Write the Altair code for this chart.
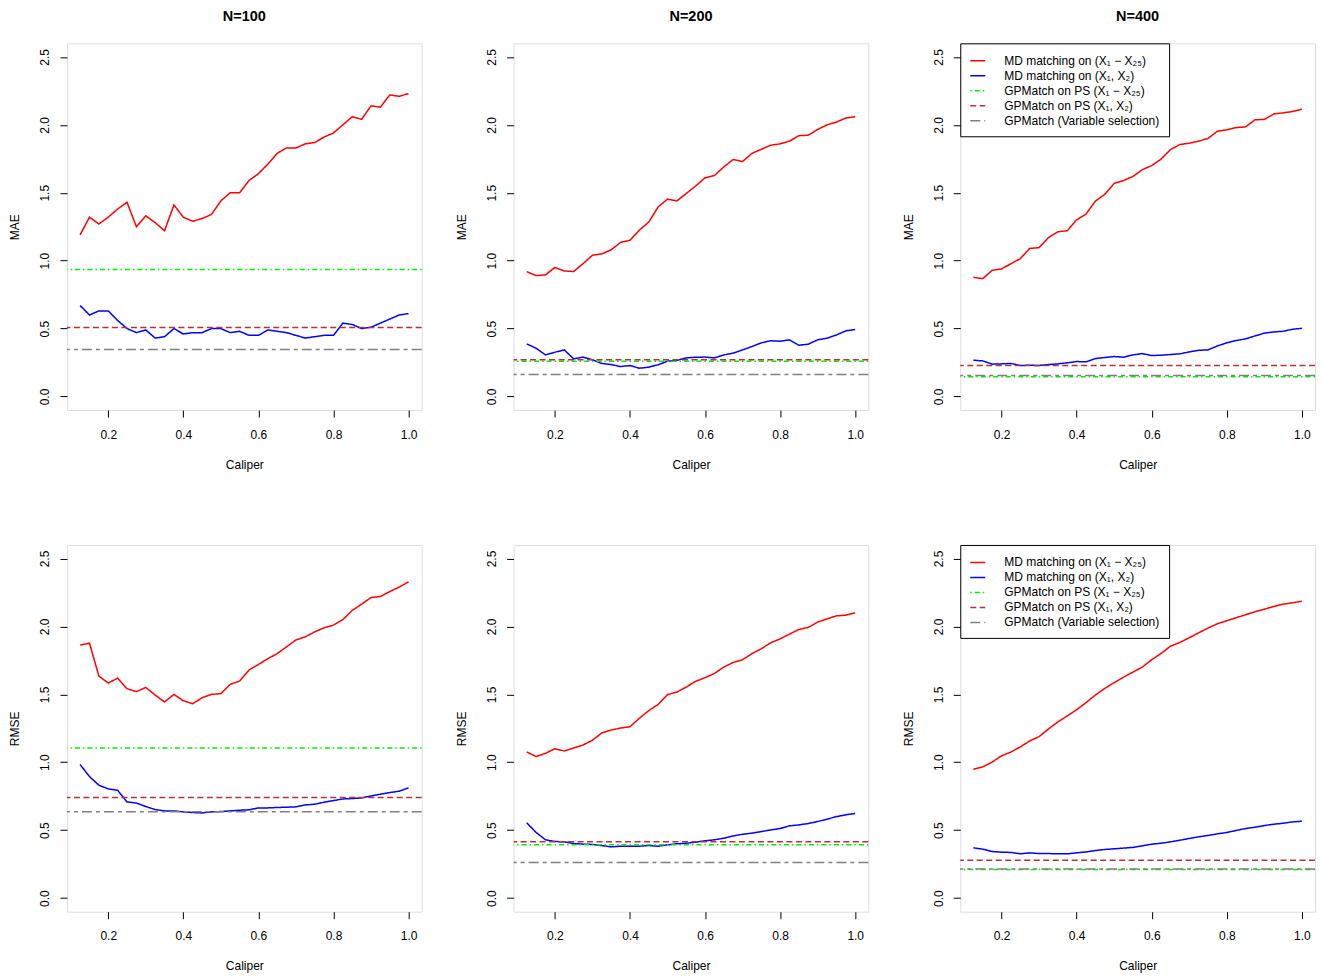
import altair as alt
import pandas as pd

caliper = [0.125, 0.15, 0.175, 0.2, 0.225, 0.25, 0.275, 0.3, 0.325, 0.35, 0.375, 0.4,
           0.425, 0.45, 0.475, 0.5, 0.525, 0.55, 0.575, 0.6, 0.625, 0.65, 0.675, 0.7,
           0.725, 0.75, 0.775, 0.8, 0.825, 0.85, 0.875, 0.9, 0.925, 0.95, 0.975, 1.0]

series_names = ["MD matching on (X\u2081 \u2212 X\u2082\u2085)",
                "MD matching on (X\u2081, X\u2082)",
                "GPMatch on PS (X\u2081 \u2212 X\u2082\u2085)",
                "GPMatch on PS (X\u2081, X\u2082)",
                "GPMatch (Variable selection)"]
series_colors = ["#FF0000", "#0000FF", "#00EE00", "#B03535", "#808080"]
series_dashes = [[1, 0], [1, 0], [1.5, 3, 5, 3], [6, 3.5], [10, 4, 4, 4]]
series_widths = [1.5, 1.5, 1.5, 1.5, 2.5]

titles = ["N=100", "N=200", "N=400"]

# MAE
mae_md_all_100 = [1.19, 1.32, 1.27, 1.32, 1.38, 1.43, 1.25, 1.33, 1.28, 1.22, 1.41, 1.32, 1.29, 1.31, 1.34, 1.44, 1.50, 1.50,
                  1.59, 1.64, 1.71, 1.79, 1.83, 1.83, 1.86, 1.87, 1.91, 1.94, 2.00, 2.06, 2.04, 2.14, 2.13, 2.22, 2.21, 2.23]
mae_md_x12_100 = [0.67, 0.60, 0.63, 0.63, 0.56, 0.50, 0.47, 0.49, 0.43, 0.44, 0.50, 0.46, 0.47, 0.47, 0.50, 0.50, 0.47, 0.48,
                  0.45, 0.45, 0.49, 0.48, 0.47, 0.45, 0.43, 0.44, 0.45, 0.45, 0.54, 0.53, 0.50, 0.51, 0.54, 0.57, 0.60, 0.61]
mae_const_100 = [0.934, 0.507, 0.346]

mae_md_all_200 = [0.919, 0.89, 0.895, 0.95, 0.924, 0.92, 0.978, 1.04, 1.05, 1.08, 1.135, 1.15, 1.225, 1.284, 1.395, 1.453, 1.44, 1.495,
                  1.55, 1.61, 1.627, 1.69, 1.745, 1.73, 1.79, 1.82, 1.85, 1.86, 1.88, 1.92, 1.924, 1.966, 2.0, 2.02, 2.05, 2.06]
mae_md_x12_200 = [0.387, 0.355, 0.306, 0.326, 0.343, 0.277, 0.29, 0.27, 0.243, 0.235, 0.22, 0.228, 0.208, 0.216, 0.233, 0.26, 0.265, 0.284,
                  0.289, 0.29, 0.284, 0.306, 0.319, 0.343, 0.368, 0.395, 0.41, 0.407, 0.417, 0.377, 0.385, 0.417, 0.429, 0.453, 0.483, 0.493]
mae_const_200 = [0.26, 0.27, 0.162]

mae_md_all_400 = [0.877, 0.868, 0.929, 0.939, 0.978, 1.015, 1.09, 1.096, 1.17, 1.213, 1.22, 1.30, 1.343, 1.439, 1.488, 1.569, 1.59, 1.62,
                  1.67, 1.70, 1.748, 1.818, 1.855, 1.865, 1.88, 1.90, 1.953, 1.963, 1.98, 1.985, 2.037, 2.04, 2.08, 2.088, 2.098, 2.115]
mae_md_x12_400 = [0.267, 0.262, 0.238, 0.24, 0.243, 0.228, 0.23, 0.228, 0.235, 0.24, 0.248, 0.257, 0.255, 0.279, 0.287, 0.294, 0.289, 0.306,
                  0.316, 0.301, 0.304, 0.309, 0.314, 0.328, 0.34, 0.343, 0.372, 0.395, 0.412, 0.424, 0.446, 0.466, 0.475, 0.48, 0.495, 0.502]
mae_const_400 = [0.145, 0.228, 0.155]

# RMSE
rmse_md_all_100 = [1.863, 1.877, 1.635, 1.583, 1.62, 1.542, 1.52, 1.551, 1.495, 1.444, 1.5, 1.453, 1.431, 1.475, 1.5, 1.505, 1.574, 1.598,
                   1.679, 1.72, 1.762, 1.80, 1.85, 1.90, 1.924, 1.96, 1.99, 2.01, 2.05, 2.118, 2.164, 2.213, 2.22, 2.257, 2.29, 2.328]
rmse_md_x12_100 = [0.983, 0.895, 0.831, 0.804, 0.794, 0.708, 0.70, 0.674, 0.652, 0.642, 0.642, 0.635, 0.63, 0.627, 0.635, 0.637, 0.642, 0.647,
                   0.65, 0.664, 0.664, 0.667, 0.669, 0.672, 0.686, 0.691, 0.706, 0.718, 0.73, 0.733, 0.738, 0.752, 0.765, 0.777, 0.787, 0.811]
rmse_const_100 = [1.105, 0.74, 0.635]

rmse_md_all_200 = [1.076, 1.042, 1.066, 1.10, 1.083, 1.105, 1.127, 1.162, 1.216, 1.238, 1.252, 1.262, 1.324, 1.38, 1.426, 1.498, 1.517, 1.554,
                   1.596, 1.623, 1.654, 1.701, 1.735, 1.755, 1.80, 1.836, 1.88, 1.909, 1.944, 1.978, 1.993, 2.032, 2.056, 2.078, 2.083, 2.10]
rmse_md_x12_200 = [0.554, 0.483, 0.429, 0.417, 0.414, 0.402, 0.397, 0.395, 0.387, 0.377, 0.382, 0.382, 0.382, 0.387, 0.382, 0.392, 0.40, 0.404,
                   0.412, 0.422, 0.429, 0.441, 0.458, 0.47, 0.478, 0.49, 0.502, 0.512, 0.532, 0.539, 0.549, 0.564, 0.581, 0.60, 0.613, 0.623]
rmse_const_200 = [0.392, 0.414, 0.262]

rmse_md_all_400 = [0.949, 0.966, 1.002, 1.047, 1.076, 1.113, 1.157, 1.189, 1.245, 1.297, 1.341, 1.387, 1.439, 1.495, 1.544, 1.586, 1.627, 1.664,
                   1.701, 1.755, 1.801, 1.855, 1.882, 1.917, 1.953, 1.988, 2.02, 2.042, 2.064, 2.086, 2.108, 2.127, 2.147, 2.164, 2.174, 2.186]
rmse_md_x12_400 = [0.37, 0.36, 0.343, 0.338, 0.336, 0.326, 0.333, 0.328, 0.328, 0.326, 0.326, 0.333, 0.34, 0.35, 0.358, 0.363, 0.368, 0.373,
                   0.385, 0.397, 0.404, 0.414, 0.426, 0.439, 0.451, 0.461, 0.473, 0.483, 0.498, 0.512, 0.522, 0.534, 0.544, 0.551, 0.561, 0.566]
rmse_const_400 = [0.21, 0.279, 0.215]

x_ticks = [0.2, 0.4, 0.6, 0.8, 1.0]
y_ticks = [0.0, 0.5, 1.0, 1.5, 2.0, 2.5]

FONT = "Liberation Sans"
PW, PH = 355, 367


def panel(md_all, md_x12, consts, ytitle, title=None, show_legend=False):
    df_lines = pd.DataFrame({
        "caliper": caliper + caliper,
        "value": md_all + md_x12,
        "series": [series_names[0]] * len(caliper) + [series_names[1]] * len(caliper),
    })
    df_rules = pd.DataFrame({"value": consts, "series": series_names[2:]})

    if show_legend:
        leg = alt.Legend(orient="top-left", offset=0, title=None, symbolType="stroke",
                         symbolSize=225, labelFontSize=12, labelFont=FONT, labelColor="black",
                         strokeColor="black", fillColor="white", padding=9, rowPadding=0,
                         labelOffset=18, labelLimit=400, cornerRadius=0)
    else:
        leg = None

    xs = alt.Scale(domain=[0.09, 1.035], nice=False, zero=False)
    ys = alt.Scale(domain=[-0.1, 2.6], nice=False, zero=False)
    xaxis = alt.Axis(values=x_ticks, format=".1f", title="Caliper", tickSize=7, labelPadding=12,
                     titlePadding=19, grid=False, domain=False, labelFontSize=12, titleFontSize=12,
                     titleFontWeight="normal", labelColor="black", tickColor="black",
                     titleColor="black", labelFlush=False, labelFont=FONT, titleFont=FONT)
    yaxis = alt.Axis(values=y_ticks, format=".1f", title=ytitle, tickSize=7, labelPadding=8,
                     titlePadding=17, grid=False, domain=False, labelFontSize=12, titleFontSize=12,
                     titleFontWeight="normal", labelColor="black", tickColor="black",
                     titleColor="black", labelFlush=False, labelAngle=270, labelFont=FONT,
                     titleFont=FONT)

    enc = dict(
        color=alt.Color("series:N", scale=alt.Scale(domain=series_names, range=series_colors), legend=leg),
        strokeDash=alt.StrokeDash("series:N", scale=alt.Scale(domain=series_names, range=series_dashes), legend=leg),
        strokeWidth=alt.StrokeWidth("series:N", scale=alt.Scale(domain=series_names, range=series_widths), legend=leg),
    )

    lines = alt.Chart(df_lines).mark_line().encode(
        x=alt.X("caliper:Q", scale=xs, axis=xaxis),
        y=alt.Y("value:Q", scale=ys, axis=yaxis),
        **enc,
    )
    rules = alt.Chart(df_rules).mark_rule().encode(
        y=alt.Y("value:Q", scale=ys),
        **enc,
    )
    ch = alt.layer(lines, rules).properties(width=PW, height=PH)
    if title:
        ch = ch.properties(title=alt.TitleParams(text=title, fontSize=14.5, fontWeight="bold",
                                                 font=FONT, offset=18.5, anchor="middle",
                                                 color="black"))
    return ch


panels = [
    panel(mae_md_all_100, mae_md_x12_100, mae_const_100, "MAE", titles[0]),
    panel(mae_md_all_200, mae_md_x12_200, mae_const_200, "MAE", titles[1]),
    panel(mae_md_all_400, mae_md_x12_400, mae_const_400, "MAE", titles[2], show_legend=True),
    panel(rmse_md_all_100, rmse_md_x12_100, rmse_const_100, "RMSE"),
    panel(rmse_md_all_200, rmse_md_x12_200, rmse_const_200, "RMSE"),
    panel(rmse_md_all_400, rmse_md_x12_400, rmse_const_400, "RMSE", show_legend=True),
]

chart = alt.concat(*panels, columns=3, spacing={"row": 135, "column": 92}, bounds="flush").resolve_scale(
    color="independent", strokeDash="independent", strokeWidth="independent"
).properties(padding=0).configure_view(
    stroke="black", strokeWidth=1
).configure(font=FONT)

chart.save("out.html", embed_options={"renderer": "svg", "actions": False})
